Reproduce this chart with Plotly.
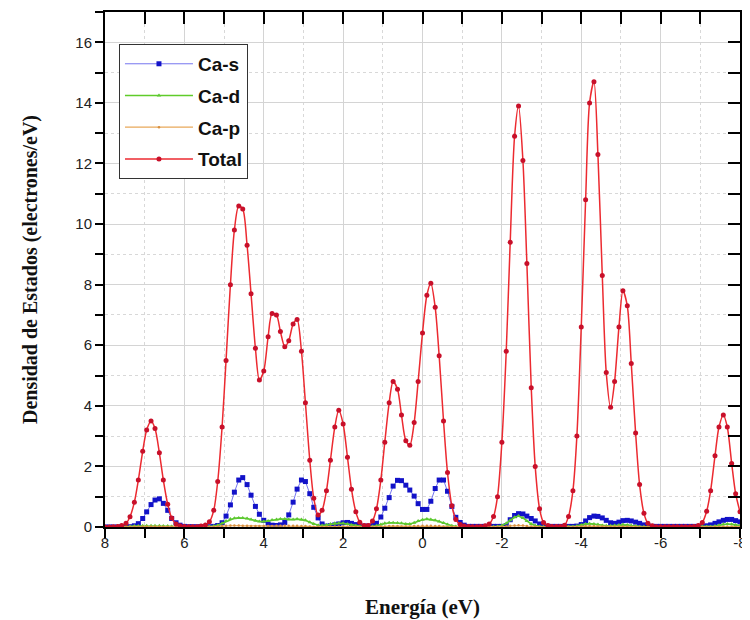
import plotly.graph_objects as go

# Energy grid (eV)
energia = [
    8.00, 7.89, 7.79, 7.68, 7.58, 7.47, 7.37, 7.26, 7.16, 7.05, 6.95, 6.84, 6.74, 6.63, 6.53, 6.42, 6.32, 6.21, 6.11,
    6.00, 5.89, 5.79, 5.68, 5.58, 5.47, 5.37, 5.26, 5.16, 5.05, 4.95, 4.84, 4.74, 4.63, 4.53, 4.42, 4.32, 4.21, 4.11,
    4.00, 3.89, 3.79, 3.68, 3.58, 3.47, 3.37, 3.26, 3.16, 3.05, 2.95, 2.84, 2.74, 2.63, 2.53, 2.42, 2.32, 2.21, 2.11,
    2.00, 1.89, 1.79, 1.68, 1.58, 1.47, 1.37, 1.26, 1.16, 1.05, 0.95, 0.84, 0.74, 0.63, 0.53, 0.42, 0.32, 0.21, 0.11,
    0.00, -0.11, -0.21, -0.32, -0.42, -0.53, -0.63, -0.74, -0.84, -0.95, -1.05, -1.16, -1.26, -1.37, -1.47, -1.58, -1.68, -1.79, -1.89,
    -2.00, -2.11, -2.21, -2.32, -2.42, -2.53, -2.63, -2.74, -2.84, -2.95, -3.05, -3.16, -3.26, -3.37, -3.47, -3.58, -3.68, -3.79, -3.89,
    -4.00, -4.11, -4.21, -4.32, -4.42, -4.53, -4.63, -4.74, -4.84, -4.95, -5.05, -5.16, -5.26, -5.37, -5.47, -5.58, -5.68, -5.79, -5.89,
    -6.00, -6.11, -6.21, -6.32, -6.42, -6.53, -6.63, -6.74, -6.84, -6.95, -7.05, -7.16, -7.26, -7.37, -7.47, -7.58, -7.68, -7.79, -7.89,
    -8.00,
]

total = [
    0.00, 0.00, 0.01, 0.02, 0.05, 0.12, 0.34, 0.82, 1.55, 2.50, 3.20, 3.50, 3.25, 2.45, 1.55, 0.75, 0.30, 0.10, 0.04,
    0.02, 0.01, 0.01, 0.01, 0.03, 0.07, 0.17, 0.55, 1.50, 3.30, 5.50, 8.00, 9.80, 10.60, 10.50, 9.30, 7.70, 5.90, 4.85,
    5.15, 6.28, 7.05, 7.00, 6.45, 5.95, 6.15, 6.70, 6.85, 5.80, 4.10, 2.20, 0.95, 0.40, 0.55, 1.20, 2.20, 3.30, 3.85,
    3.40, 2.30, 1.25, 0.50, 0.16, 0.05, 0.05, 0.20, 0.60, 1.55, 2.80, 4.10, 4.80, 4.55, 3.70, 2.85, 2.70, 3.45, 4.80,
    6.40, 7.65, 8.05, 7.25, 5.65, 3.50, 1.80, 0.70, 0.25, 0.08, 0.03, 0.02, 0.01, 0.01, 0.02, 0.04, 0.10, 0.35, 1.00,
    2.80, 5.80, 9.40, 12.90, 13.90, 12.10, 8.70, 4.60, 2.00, 0.60, 0.15, 0.05, 0.02, 0.02, 0.02, 0.06, 0.35, 1.20, 3.00,
    6.60, 10.80, 14.00, 14.70, 12.30, 8.30, 5.10, 3.95, 4.80, 6.60, 7.80, 7.30, 5.40, 3.10, 1.40, 0.45, 0.12, 0.04, 0.01,
    0.01, 0.01, 0.01, 0.01, 0.01, 0.01, 0.01, 0.01, 0.02, 0.05, 0.15, 0.52, 1.20, 2.35, 3.30, 3.70, 3.30, 2.10, 1.10,
    0.50,
]

ca_s = [
    0.00, 0.00, 0.00, 0.00, 0.00, 0.00, 0.01, 0.04, 0.11, 0.28, 0.50, 0.74, 0.89, 0.93, 0.78, 0.55, 0.28, 0.14, 0.06,
    0.02, 0.01, 0.01, 0.01, 0.01, 0.01, 0.01, 0.02, 0.05, 0.14, 0.36, 0.73, 1.15, 1.55, 1.63, 1.40, 1.05, 0.68, 0.42,
    0.22, 0.10, 0.06, 0.05, 0.07, 0.15, 0.40, 0.82, 1.25, 1.55, 1.50, 1.10, 0.65, 0.30, 0.10, 0.03, 0.04, 0.07, 0.10,
    0.14, 0.15, 0.12, 0.08, 0.05, 0.03, 0.03, 0.05, 0.12, 0.33, 0.62, 0.97, 1.35, 1.54, 1.53, 1.38, 1.22, 1.02, 0.77,
    0.58, 0.58, 0.85, 1.27, 1.55, 1.55, 1.18, 0.68, 0.32, 0.15, 0.06, 0.02, 0.02, 0.02, 0.02, 0.02, 0.02, 0.02, 0.02,
    0.02, 0.05, 0.24, 0.38, 0.44, 0.43, 0.36, 0.28, 0.20, 0.10, 0.05, 0.02, 0.02, 0.02, 0.02, 0.02, 0.02, 0.02, 0.03,
    0.08, 0.20, 0.31, 0.36, 0.35, 0.30, 0.22, 0.14, 0.12, 0.16, 0.21, 0.22, 0.20, 0.16, 0.12, 0.07, 0.04, 0.02, 0.02,
    0.02, 0.02, 0.02, 0.02, 0.02, 0.02, 0.02, 0.02, 0.02, 0.02, 0.02, 0.04, 0.07, 0.12, 0.17, 0.22, 0.25, 0.25, 0.21,
    0.17,
]

ca_d = [
    0.00, 0.00, 0.00, 0.00, 0.00, 0.01, 0.02, 0.03, 0.03, 0.04, 0.04, 0.04, 0.04, 0.04, 0.03, 0.03, 0.02, 0.01, 0.01,
    0.01, 0.01, 0.01, 0.01, 0.01, 0.01, 0.01, 0.03, 0.06, 0.12, 0.20, 0.26, 0.29, 0.30, 0.30, 0.28, 0.25, 0.21, 0.18,
    0.18, 0.20, 0.23, 0.25, 0.26, 0.26, 0.25, 0.25, 0.26, 0.25, 0.22, 0.16, 0.10, 0.06, 0.05, 0.07, 0.10, 0.12, 0.12,
    0.12, 0.10, 0.07, 0.04, 0.02, 0.01, 0.01, 0.02, 0.04, 0.08, 0.12, 0.14, 0.14, 0.13, 0.12, 0.10, 0.10, 0.14, 0.20,
    0.24, 0.26, 0.25, 0.22, 0.18, 0.13, 0.08, 0.04, 0.02, 0.01, 0.01, 0.01, 0.01, 0.01, 0.01, 0.01, 0.01, 0.01, 0.02,
    0.05, 0.12, 0.22, 0.32, 0.36, 0.30, 0.20, 0.10, 0.05, 0.02, 0.01, 0.01, 0.01, 0.01, 0.01, 0.01, 0.01, 0.01, 0.03,
    0.07, 0.10, 0.11, 0.10, 0.08, 0.05, 0.04, 0.04, 0.05, 0.07, 0.08, 0.07, 0.05, 0.03, 0.01, 0.01, 0.01, 0.01, 0.01,
    0.01, 0.01, 0.01, 0.01, 0.01, 0.01, 0.01, 0.01, 0.01, 0.01, 0.01, 0.01, 0.01, 0.03, 0.06, 0.09, 0.10, 0.09, 0.07,
    0.05,
]

ca_p = [
    0.00, 0.00, 0.00, 0.00, 0.00, 0.00, 0.01, 0.01, 0.01, 0.02, 0.02, 0.02, 0.02, 0.02, 0.01, 0.01, 0.01, 0.00, 0.00,
    0.00, 0.00, 0.00, 0.00, 0.00, 0.00, 0.01, 0.01, 0.02, 0.03, 0.04, 0.05, 0.05, 0.05, 0.04, 0.04, 0.03, 0.03, 0.03,
    0.03, 0.03, 0.03, 0.04, 0.04, 0.04, 0.04, 0.04, 0.04, 0.03, 0.03, 0.02, 0.01, 0.01, 0.01, 0.01, 0.02, 0.02, 0.02,
    0.02, 0.02, 0.01, 0.01, 0.00, 0.00, 0.00, 0.01, 0.01, 0.02, 0.02, 0.03, 0.03, 0.03, 0.02, 0.02, 0.02, 0.03, 0.03,
    0.04, 0.04, 0.04, 0.03, 0.03, 0.02, 0.01, 0.01, 0.00, 0.00, 0.00, 0.00, 0.00, 0.00, 0.00, 0.00, 0.00, 0.00, 0.01,
    0.01, 0.02, 0.04, 0.05, 0.06, 0.05, 0.03, 0.02, 0.01, 0.00, 0.00, 0.00, 0.00, 0.00, 0.00, 0.00, 0.00, 0.00, 0.01,
    0.02, 0.03, 0.03, 0.03, 0.02, 0.02, 0.01, 0.01, 0.01, 0.02, 0.02, 0.02, 0.01, 0.01, 0.00, 0.00, 0.00, 0.00, 0.00,
    0.00, 0.00, 0.00, 0.00, 0.00, 0.00, 0.00, 0.00, 0.00, 0.00, 0.00, 0.00, 0.00, 0.01, 0.01, 0.02, 0.02, 0.02, 0.01,
    0.01,
]

x_tickvals = [8, 6, 4, 2, 0, -2, -4, -6, -8]
x_ticktext = ["8", "6", "4", "2", "0", "-2", "-4", "-6", "-8"]
y_tickvals = [0, 2, 4, 6, 8, 10, 12, 14, 16]
y_ticktext = ["0", "2", "4", "6", "8", "10", "12", "14", "16"]

fig = go.Figure()

fig.add_trace(go.Scatter(
    x=energia, y=ca_s, name="Ca-s", mode="lines+markers",
    line=dict(color="#3a3ae8", width=0.7),
    marker=dict(symbol="square", size=5, color="#1212c8"),
    legendgroup="s",
))
fig.add_trace(go.Scatter(
    x=energia, y=ca_d, name="Ca-d", mode="lines+markers",
    line=dict(color="#5fcc2a", width=1.6),
    marker=dict(symbol="triangle-up", size=4, color="#5cc832"),
    legendgroup="d",
))
fig.add_trace(go.Scatter(
    x=energia, y=ca_p, name="Ca-p", mode="lines+markers",
    line=dict(color="#e8a85a", width=1.2),
    marker=dict(symbol="circle", size=2.5, color="#d89040"),
    legendgroup="p",
))
fig.add_trace(go.Scatter(
    x=energia, y=total, name="Total", mode="lines+markers",
    line=dict(color="#ec2a30", width=1.5, shape="spline", smoothing=0.8),
    marker=dict(symbol="circle", size=5, color="#c8102a"),
    legendgroup="t",
))
# invisible trace that activates the top/right tick axes
fig.add_trace(go.Scatter(
    x=energia[:1], y=total[:1], xaxis="x2", yaxis="y2", mode="markers",
    marker=dict(opacity=0), showlegend=False, hoverinfo="skip",
))

tick_font = dict(family="Liberation Sans, Arial, sans-serif", size=15, color="#222222")
title_font = dict(family="Liberation Serif, Times New Roman, serif", size=21, color="#111111")

# The page body adds an 8px offset, so the figure is 742x612 with margins shifted by 8px
fig.update_layout(
    width=742, height=612,
    margin=dict(l=97, r=10, t=4, b=93),
    paper_bgcolor="white", plot_bgcolor="white",
    showlegend=True,
    legend=dict(
        x=0.022, y=0.938, xanchor="left", yanchor="top",
        bgcolor="white", bordercolor="#333333", borderwidth=1,
        font=dict(family="Liberation Sans, Arial, sans-serif", size=19, color="#111111", weight="bold"),
        traceorder="grouped", tracegroupgap=4,
        itemwidth=68,
    ),
    xaxis=dict(
        range=[8, -8], tickmode="array", tickvals=x_tickvals, ticktext=x_ticktext,
        showline=True, linecolor="black", linewidth=2, mirror=True,
        ticks="outside", ticklen=9, tickwidth=2, tickcolor="black",
        ticklabelstandoff=-8,
        showgrid=True, gridcolor="#d4d4d4", gridwidth=1, zeroline=False,
        minor=dict(tickmode="linear", tick0=0, dtick=1, ticks="outside", ticklen=9,
                   tickwidth=2, tickcolor="black", showgrid=True, gridcolor="#d8d8d8",
                   griddash="dot", gridwidth=1),
        tickfont=tick_font, automargin=False,
        title=dict(text="<b>Energía (eV)</b>", font=title_font, standoff=49),
    ),
    yaxis=dict(
        range=[0, 17], tickmode="array", tickvals=y_tickvals, ticktext=y_ticktext,
        showline=True, linecolor="black", linewidth=2, mirror=True,
        ticks="outside", ticklen=8, tickwidth=2, tickcolor="black",
        showgrid=True, gridcolor="#d4d4d4", gridwidth=1, zeroline=False,
        minor=dict(tickmode="linear", tick0=0, dtick=1, ticks="outside", ticklen=8,
                   tickwidth=2, tickcolor="black", showgrid=True, gridcolor="#d8d8d8",
                   griddash="dot", gridwidth=1),
        tickfont=tick_font, automargin=False,
        title=dict(text="<b>Densidad de Estados (electrones/eV)</b>", font=dict(title_font, size=20), standoff=32),
    ),
    xaxis2=dict(
        overlaying="x", side="top", anchor="y2", range=[8, -8], tickmode="linear", tick0=0, dtick=1,
        ticks="inside", ticklen=12, tickwidth=2, tickcolor="black",
        showticklabels=False, showgrid=False, zeroline=False, showline=True,
        linecolor="black", linewidth=2, visible=True,
    ),
    yaxis2=dict(
        overlaying="y", side="right", anchor="x2", range=[0, 17], tickmode="linear", tick0=0, dtick=1,
        ticks="inside", ticklen=12, tickwidth=2, tickcolor="black",
        showticklabels=False, showgrid=False, zeroline=False, showline=True,
        linecolor="black", linewidth=2, visible=True,
    ),
)

fig.write_html("out.html")
